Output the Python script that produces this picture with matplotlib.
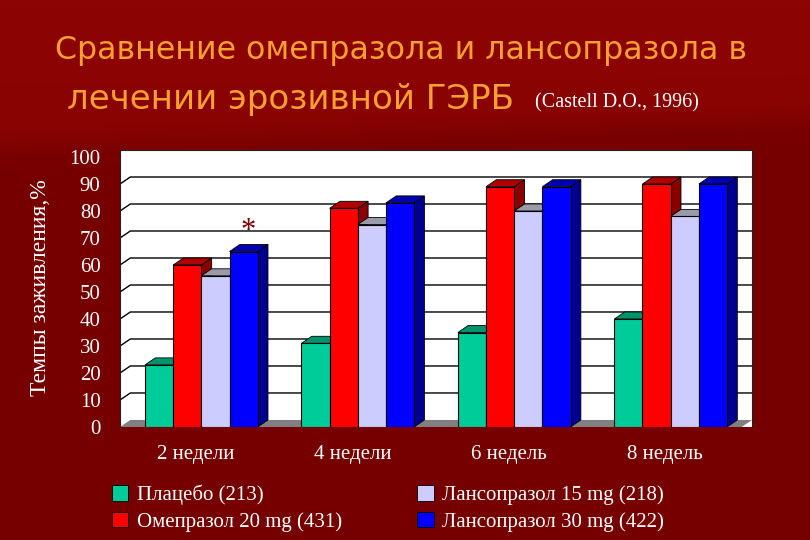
import matplotlib
matplotlib.use("Agg")
import matplotlib.pyplot as plt
import numpy as np
from matplotlib.patches import Patch, Polygon

# data
weeks = ["2 недели", "4 недели", "6 недель", "8 недель"]
placebo = [23, 31, 35, 40]
omeprazole_20 = [60, 81, 89, 90]
lansoprazole_15 = [56, 75, 80, 78]
lansoprazole_30 = [65, 83, 89, 90]
series_labels = ["Плацебо (213)", "Омепразол 20 mg (431)",
                 "Лансопразол 15 mg (218)", "Лансопразол 30 mg (422)"]
y_ticks = list(range(0, 101, 10))

FRONT = ["#00cc99", "#ff0000", "#ccccff", "#0000ff"]
SIDE = ["#00805f", "#8a0000", "#8c8cb0", "#000090"]
TOP = ["#00936e", "#b00000", "#9a9aa8", "#0000b0"]
BG = "#780000"
SERIF = ["Liberation Serif", "DejaVu Serif"]

fig = plt.figure(figsize=(8.1, 5.4), dpi=100, facecolor=BG)

# background: lighter band at the top, darker below
bg = fig.add_axes([0, 0, 1, 1], zorder=-10)
yy, xx = np.mgrid[0:1:270j, 0:1:405j]
edge = 0.27 - 0.05 * xx
shade = 0.5 * (1 - np.tanh((yy - edge) / 0.03)) * (1 - 0.3 * yy)
bg.imshow(shade, cmap=matplotlib.colors.LinearSegmentedColormap.from_list(
    "bg", ["#760000", "#8c0404"]), aspect="auto", origin="upper",
    extent=[0, 1, 0, 1], vmin=0, vmax=1)
bg.axis("off")

ax = fig.add_axes([120 / 810, 113 / 540, 632 / 810, 277 / 540])
ax.set_facecolor("white")
xmin, xmax = -0.52, 3.52
dx, dy = 0.066, 2.6
ax.set_xlim(xmin, xmax)
ax.set_ylim(0, 100 + dy)

# floor and gridlines on the back wall
ax.add_patch(Polygon([(xmin, 0), (xmax - dx, 0), (xmax, dy), (xmin + dx, dy)],
                     closed=True, facecolor="#808080", edgecolor="none", zorder=1))
for v in y_ticks[1:-1]:
    ax.plot([xmin, xmin + dx, xmax], [v, v + dy, v + dy], color="black", lw=1.0, zorder=1)

data = [placebo, omeprazole_20, lansoprazole_15, lansoprazole_30]
w = 0.18
z = 2
for i in range(len(weeks)):
    for j, vals in enumerate(data):
        x = i + (j - 1.5) * w
        v = vals[i]
        r = x + w / 2
        l = x - w / 2
        ax.add_patch(Polygon([(r, 0), (r + dx, dy), (r + dx, v + dy), (r, v)],
                             closed=True, facecolor=SIDE[j], edgecolor="black", lw=0.6, zorder=z))
        ax.add_patch(Polygon([(l, v), (l + dx, v + dy), (r + dx, v + dy), (r, v)],
                             closed=True, facecolor=TOP[j], edgecolor="black", lw=0.6, zorder=z))
        ax.bar(x, v, w, color=FRONT[j], edgecolor="black", lw=0.8, zorder=z + 1)
        z += 2

ax.text(0 + 1.5 * w + 0.03, lansoprazole_30[0] + 2, "*", color="#7a0000", fontsize=22,
        ha="center", va="bottom", family=SERIF, zorder=50)

for s in ["left", "right", "top"]:
    ax.spines[s].set_color("#222222")
ax.spines["bottom"].set_visible(False)
ax.set_yticks(y_ticks)
ax.set_yticklabels([str(t) for t in y_ticks], color="white", fontsize=15, family=SERIF)
ax.set_xticks([i - 0.035 for i in range(len(weeks))])
ax.set_xticklabels(weeks, color="white", fontsize=15, family=SERIF)
ax.tick_params(axis="both", length=0)
ax.tick_params(axis="x", pad=13)
ax.tick_params(axis="y", pad=14)

fig.text(41 / 810, 1 - 288 / 540, "Темпы заживления,%", rotation=90, color="white",
         fontsize=17, family=SERIF, ha="center", va="center")

# title
fig.text(401 / 810, 1 - 51 / 540, "Сравнение омепразола и лансопразола в",
         color="#f5a030", fontsize=22.8, family="DejaVu Sans", ha="center", va="center")
fig.text(67 / 810, 1 - 99 / 540, "лечении эрозивной ГЭРБ", color="#f5a030",
         fontsize=24.5, family="DejaVu Sans", ha="left", va="center")
fig.text(535 / 810, 1 - 103 / 540, "(Castell D.O., 1996)", color="white",
         fontsize=14.5, family=SERIF, ha="left", va="center")

handles = [Patch(facecolor=c, edgecolor="black", lw=0.6) for c in FRONT]
leg = fig.legend(handles, series_labels, ncol=2, loc="upper left",
                 bbox_to_anchor=(93 / 810, 1 - 466 / 540), frameon=False,
                 prop={"family": SERIF, "size": 15}, labelcolor="white",
                 handlelength=0.8, handleheight=0.8, handletextpad=0.4,
                 columnspacing=3.6, labelspacing=0.3)

fig.savefig("out.png", dpi=100, facecolor=BG)
